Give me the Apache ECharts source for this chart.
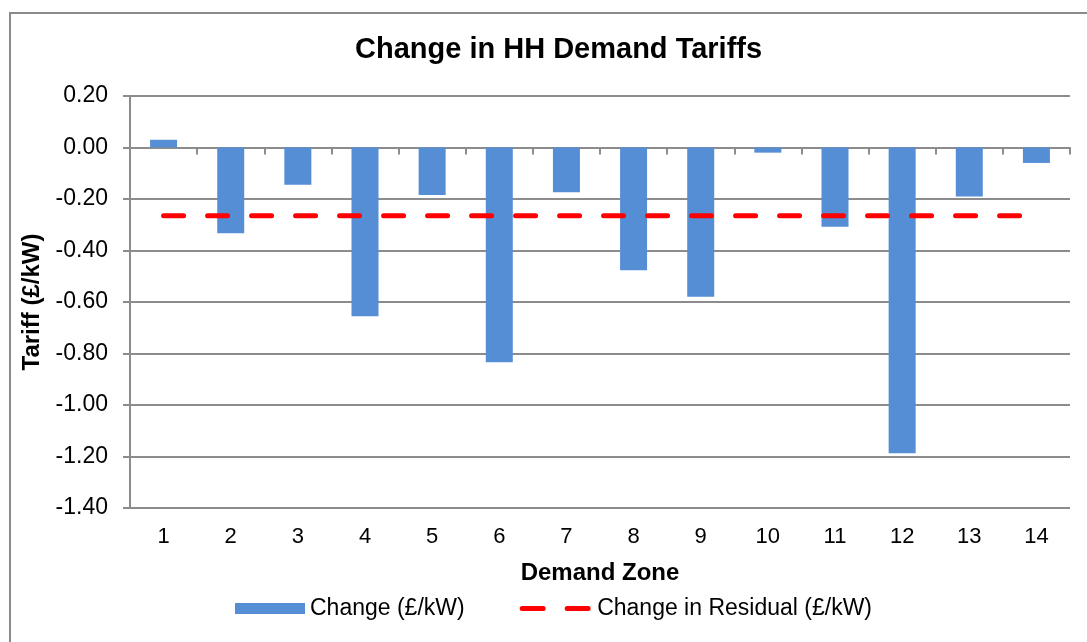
<!DOCTYPE html>
<html>
<head>
<meta charset="utf-8">
<title>Change in HH Demand Tariffs</title>
<script src="https://cdn.jsdelivr.net/npm/echarts@6/dist/echarts.min.js"></script>
<style>
    html, body { margin: 0; padding: 0; background: #fff; }
    #main { width: 1087px; height: 642px; }
</style>
</head>
<body>
<div id="main"></div>
<script>
// 数据
var zones = ['1', '2', '3', '4', '5', '6', '7', '8', '9', '10', '11', '12', '13', '14'];
var changeValues = [0.03, -0.333, -0.145, -0.655, -0.184, -0.834, -0.174, -0.477, -0.58, -0.02, -0.308, -1.187, -0.19, -0.06];
var residualValues = [-0.265, -0.265, -0.265, -0.265, -0.265, -0.265, -0.265, -0.265, -0.265, -0.265, -0.265, -0.265, -0.265, -0.265];
var yTicks = { min: -1.4, max: 0.2, interval: 0.2 };

var font = "'Liberation Sans', Arial, sans-serif";
var gridColor = '#8c8c8c';

var chart = echarts.init(document.getElementById('main'));

var option = {
    animation: false,
    backgroundColor: '#fff',
    title: {
        text: 'Change in HH Demand Tariffs',
        left: 350,
        top: 30,
        textStyle: {
            fontFamily: font,
            fontSize: 29,
            fontWeight: 'bold',
            color: '#000'
        }
    },
    graphic: [
        {
            // 外框
            type: 'rect',
            shape: { x: 10, y: 13, width: 1100, height: 700 },
            style: { fill: 'none', stroke: '#8a8a8a', lineWidth: 2 },
            silent: true
        }
    ],
    legend: {
        left: 235,
        top: 597,
        padding: 0,
        itemWidth: 70,
        itemHeight: 11,
        itemGap: 55,
        textStyle: { fontFamily: font, fontSize: 23, color: '#000' },
        data: [
            { name: 'Change (£/kW)', icon: 'rect' },
            {
                name: 'Change in Residual (£/kW)',
                itemStyle: { opacity: 0 },
                lineStyle: { color: '#ff0000', width: 5, type: [21, 24], cap: 'round' }
            }
        ]
    },
    grid: {
        left: 130,
        right: 17,
        top: 96,
        bottom: 134
    },
    xAxis: [
        {
            type: 'category',
            data: zones,
            name: 'Demand Zone',
            nameLocation: 'middle',
            nameGap: 53,
            nameTextStyle: { fontFamily: font, fontSize: 24, fontWeight: 'bold', color: '#000' },
            axisLine: { show: false, onZero: false },
            axisTick: { show: false },
            axisLabel: { margin: 18, fontFamily: font, fontSize: 22, color: '#000' }
        },
        {
            // 零线及刻度
            type: 'category',
            data: zones,
            position: 'bottom',
            axisLine: { show: true, onZero: true, lineStyle: { color: gridColor, width: 2 } },
            axisTick: { show: true, length: 7, lineStyle: { color: gridColor, width: 2 } },
            axisLabel: { show: false }
        }
    ],
    yAxis: {
        type: 'value',
        min: yTicks.min,
        max: yTicks.max,
        interval: yTicks.interval,
        name: 'Tariff (£/kW)',
        nameLocation: 'middle',
        nameGap: 84,
        nameTextStyle: { fontFamily: font, fontSize: 24, fontWeight: 'bold', color: '#000' },
        axisLine: { show: true, lineStyle: { color: gridColor, width: 2 } },
        axisTick: { show: true, length: 7, lineStyle: { color: gridColor, width: 2 } },
        axisLabel: {
            margin: 22,
            fontFamily: font,
            fontSize: 23,
            color: '#000',
            formatter: function (value) {
                var s = value.toFixed(2);
                return s === '-0.00' ? '0.00' : s;
            }
        },
        splitLine: { show: true, lineStyle: { color: gridColor, width: 2 } }
    },
    series: [
        {
            name: 'Change (£/kW)',
            type: 'bar',
            xAxisIndex: 0,
            barWidth: 27,
            data: changeValues,
            itemStyle: { color: '#558ed5' }
        },
        {
            name: 'Change in Residual (£/kW)',
            type: 'line',
            xAxisIndex: 0,
            symbol: 'none',
            data: residualValues,
            z: 5,
            lineStyle: { color: '#ff0000', width: 5, type: [20, 24], cap: 'round' },
            itemStyle: { color: '#ff0000' }
        }
    ]
};

chart.setOption(option);

window.addEventListener('resize', function () {
    chart.resize();
});
</script>
</body>
</html>
